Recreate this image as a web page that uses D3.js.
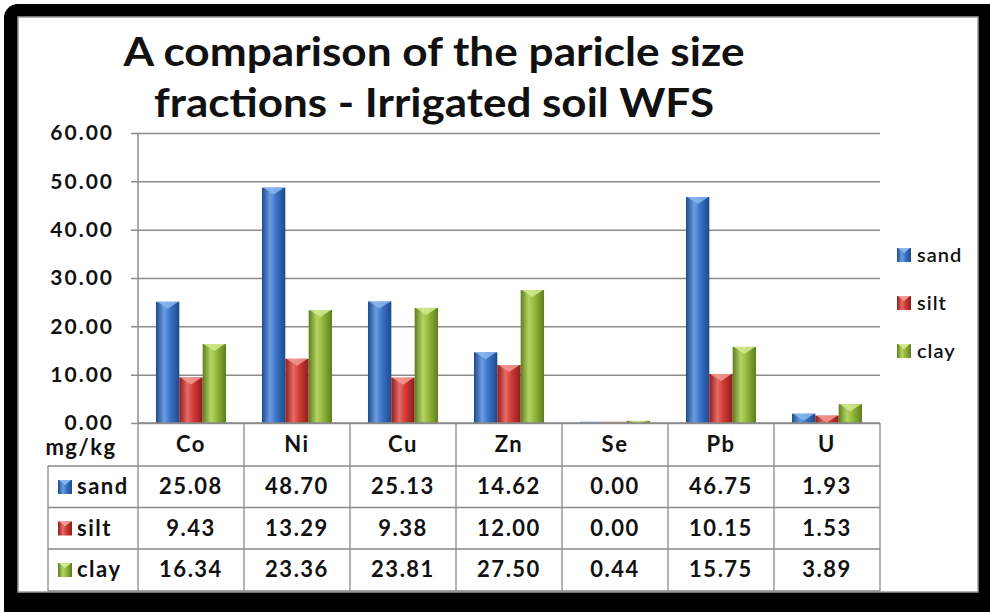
<!DOCTYPE html>
<html>
<head>
<meta charset="utf-8">
<script src="https://cdn.jsdelivr.net/npm/d3@7"></script>
<style>
  body { margin:0; background:#fff; }
  svg { display:block; font-family: Lato, "Open Sans", sans-serif; }
</style>
</head>
<body>
<svg width="990" height="612"></svg>
<script>
var categories = ["Co","Ni","Cu","Zn","Se","Pb","U"]
var seriesNames = ["sand","silt","clay"]
var sand = [25.08,48.70,25.13,14.62,0.00,46.75,1.93]
var silt = [9.43,13.29,9.38,12.00,0.00,10.15,1.53]
var clay = [16.34,23.36,23.81,27.50,0.44,15.75,3.89]
var yTicks = [0,10,20,30,40,50,60]
var titleLines = ["A comparison of the paricle size","fractions - Irrigated soil WFS"]

var colors = {
  sand: {dark:"#1d4a8c", mid:"#3b73c8", light:"#6a9de0", cap:"#8ab8f0"},
  silt: {dark:"#8e1c1c", mid:"#d13a36", light:"#e66b66", cap:"#f39a95"},
  clay: {dark:"#5d7d1e", mid:"#93b83c", light:"#b5d465", cap:"#d2ea8f"}
}
var seriesData = {sand:sand, silt:silt, clay:clay}

var svg = d3.select("svg")
var plot = {left:138, right:880, top:133, bottom:423}
var rowH = [43,41.5,41.5,42]

// gradients
var defs = svg.append("defs")
seriesNames.forEach(function(s){
  var g = defs.append("linearGradient").attr("id","grad-"+s)
    .attr("x1","0").attr("x2","1").attr("y1","0").attr("y2","0")
  g.append("stop").attr("offset","0").attr("stop-color",colors[s].dark)
  g.append("stop").attr("offset","0.35").attr("stop-color",colors[s].light)
  g.append("stop").attr("offset","0.6").attr("stop-color",colors[s].mid)
  g.append("stop").attr("offset","1").attr("stop-color",colors[s].dark)
})

// frame
svg.append("rect").attr("x",4).attr("y",4).attr("width",1000).attr("height",620)
  .attr("rx",14).attr("fill","#000")
svg.append("rect").attr("x",18).attr("y",17).attr("width",960).attr("height",575)
  .attr("fill","#fff").attr("stroke","#9a9a9a").attr("stroke-width",1.5)

// title
var titleWidths = [621,560]
svg.append("g").selectAll("text").data(titleLines).enter().append("text")
  .attr("x",434).attr("y",function(d,i){return 66 + i*51})
  .attr("text-anchor","middle")
  .attr("textLength",function(d,i){return titleWidths[i]})
  .attr("lengthAdjust","spacingAndGlyphs")
  .attr("font-size",40).attr("font-weight","bold").attr("fill","#111")
  .text(function(d){return d})

var x = d3.scaleBand().domain(categories).range([plot.left,plot.right]).padding(0)
var xi = d3.scaleBand().domain(seriesNames).range([0,x.bandwidth()]).paddingInner(0).paddingOuter(0.77)
var y = d3.scaleLinear().domain([0,60]).range([plot.bottom,plot.top])

// gridlines + y axis
var yAxis = d3.axisLeft(y).tickValues(yTicks).tickFormat(d3.format(".2f"))
  .tickSize(-(plot.right-plot.left))
var ag = svg.append("g").attr("transform","translate("+plot.left+",0)").call(yAxis)
ag.select(".domain").remove()
ag.selectAll(".tick line").attr("stroke","#8c8c8c").attr("stroke-width",1.5).attr("x1",-7)
ag.selectAll(".tick text").attr("x",-24).attr("font-size",21).attr("font-weight","bold")
  .attr("letter-spacing","2px")
  .attr("fill","#111").attr("font-family","Lato, sans-serif")
svg.append("line").attr("x1",plot.left).attr("x2",plot.left).attr("y1",plot.top).attr("y2",plot.bottom)
  .attr("stroke","#8c8c8c").attr("stroke-width",1.5)

// bars
var groups = svg.append("g").selectAll("g").data(categories).enter().append("g")
  .attr("transform",function(d){return "translate("+x(d)+",0)"})
groups.selectAll("g.bar").data(function(c,ci){
    return seriesNames.map(function(s){return {s:s, v:seriesData[s][ci]}})
  }).enter().append("g").attr("class","bar")
  .each(function(d){
    var g = d3.select(this)
    var bx = xi(d.s), bw = xi.bandwidth()
    var top = y(d.v), h = plot.bottom - top
    if (h <= 0) {
      g.append("rect").attr("x",bx).attr("y",plot.bottom-1.5).attr("width",bw).attr("height",1.5)
        .attr("fill",colors[d.s].mid).attr("opacity",0.5)
      return
    }
    g.append("rect").attr("x",bx).attr("y",top).attr("width",bw).attr("height",h)
      .attr("fill","url(#grad-"+d.s+")")
    var ch = Math.min(7, h)
    g.append("path")
      .attr("d","M"+(bx+1)+","+top+"L"+(bx+bw-1)+","+top+"L"+(bx+bw/2)+","+(top+ch)+"Z")
      .attr("fill",colors[d.s].cap).attr("opacity",0.85)
  })

// data table
var table = svg.append("g").attr("stroke","#8a8a8a").attr("stroke-width",1.3)
var rowY = [plot.bottom]
rowH.forEach(function(h){rowY.push(rowY[rowY.length-1]+h)})
var tableLeft = 48
rowY.slice(1).forEach(function(yy){
  table.append("line").attr("x1",tableLeft).attr("x2",plot.right).attr("y1",yy).attr("y2",yy)
})
table.append("line").attr("x1",plot.left).attr("x2",plot.right).attr("y1",plot.bottom).attr("y2",plot.bottom)
table.append("line").attr("x1",tableLeft).attr("x2",tableLeft).attr("y1",rowY[1]).attr("y2",rowY[4])
categories.forEach(function(c){
  table.append("line").attr("x1",x(c)).attr("x2",x(c)).attr("y1",plot.bottom).attr("y2",rowY[4])
})
table.append("line").attr("x1",plot.right).attr("x2",plot.right).attr("y1",plot.bottom).attr("y2",rowY[4])

var tt = svg.append("g").attr("font-size",22).attr("font-weight","bold").attr("fill","#111")
  .attr("text-anchor","middle").attr("letter-spacing","1.5px")
tt.selectAll("text.cat").data(categories).enter().append("text")
  .attr("x",function(d){return x(d)+x.bandwidth()/2}).attr("y",rowY[0]+29)
  .text(function(d){return d})
tt.append("text").attr("x",81).attr("y",455).text("mg/kg")
seriesNames.forEach(function(s,si){
  var yy = rowY[si+1]
  tt.selectAll("text.v"+s).data(seriesData[s]).enter().append("text")
    .attr("x",function(d,i){return x(categories[i])+x.bandwidth()/2}).attr("y",yy+28)
    .text(function(d){return d3.format(".2f")(d)})
  svg.append("rect").attr("x",58).attr("y",yy+14).attr("width",14).attr("height",14)
    .attr("fill","url(#grad-"+s+")")
  svg.append("path").attr("d","M"+59+","+(yy+14)+"L"+71+","+(yy+14)+"L"+65+","+(yy+19)+"Z")
    .attr("fill",colors[s].cap)
  tt.append("text").attr("x",77).attr("y",yy+28).attr("text-anchor","start").text(s)
})

// legend
var leg = svg.append("g").selectAll("g").data(seriesNames).enter().append("g")
  .attr("transform",function(d,i){return "translate(897,"+(248+i*48)+")"})
leg.append("rect").attr("width",14).attr("height",14).attr("fill",function(d){return "url(#grad-"+d+")"})
leg.append("path").attr("d","M1,0L13,0L7,5Z").attr("fill",function(d){return colors[d].cap})
leg.append("text").attr("x",20).attr("y",14).attr("font-size",20).attr("font-weight","600")
  .attr("letter-spacing","1px")
  .attr("fill","#111").text(function(d){return d})
</script>
</body>
</html>
